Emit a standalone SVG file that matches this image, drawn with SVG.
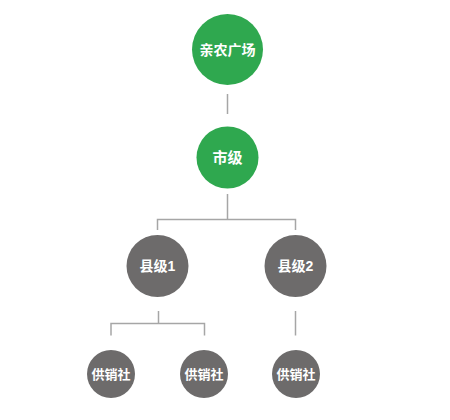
<svg xmlns="http://www.w3.org/2000/svg" width="450" height="420" viewBox="0 0 450 420">
<style>
.g{fill:#2fa84f}
.d{fill:#6d6b6b}
.t{fill:#fff;font-family:"Liberation Sans","Noto Sans CJK SC",sans-serif;font-weight:bold;text-anchor:middle;dominant-baseline:central}
.c{fill:none;stroke:#a6a6a6;stroke-width:1.5}
</style>
<rect width="450" height="420" fill="#fff"/>
<g id="connectors">
<path class="c" stroke="#c4c4c4" d="M227.5 94V114"/>
<path class="c" d="M227.5 194V219.5M157.5 230V219.5H295.5V230"/>
<path class="c" d="M158.5 311V323.5M111 335.5V323.5H204.5V335.5"/>
<path class="c" d="M295.5 311V335.5"/>
</g>
<g id="n1"><circle class="g" cx="227.5" cy="49.5" r="35.5"/><text class="t" x="227.5" y="49.5" font-size="14">亲农广场</text></g>
<g id="n2"><circle class="g" cx="227.5" cy="157.5" r="31"/><text class="t" x="227.5" y="157.5" font-size="15">市级</text></g>
<g id="n3"><circle class="d" cx="157.5" cy="266" r="31"/><text class="t" x="157.5" y="266" font-size="14">县级1</text></g>
<g id="n4"><circle class="d" cx="295.5" cy="266" r="31"/><text class="t" x="295.5" y="266" font-size="14">县级2</text></g>
<g id="n5"><circle class="d" cx="111" cy="374" r="24"/><text class="t" x="111" y="374" font-size="13">供销社</text></g>
<g id="n6"><circle class="d" cx="204" cy="374" r="24"/><text class="t" x="204" y="374" font-size="13">供销社</text></g>
<g id="n7"><circle class="d" cx="296" cy="374" r="24"/><text class="t" x="296" y="374" font-size="13">供销社</text></g>
</svg>
